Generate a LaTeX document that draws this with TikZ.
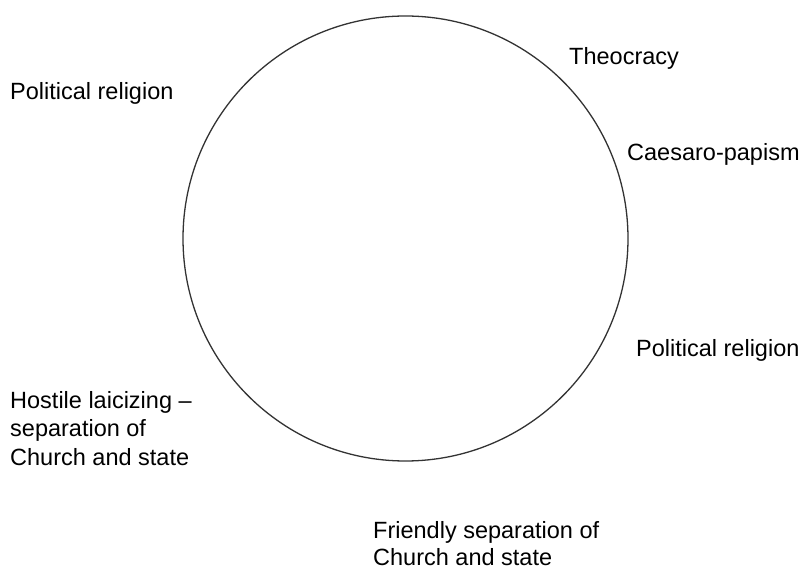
\documentclass[tikz,border=0pt]{standalone}
\usepackage{fontspec}
\setmainfont{Liberation Sans}
\begin{document}
\begin{tikzpicture}[x=1pt,y=1pt,
  lab/.style={font=\fontsize{23.5}{28.5}\selectfont, inner sep=0pt, anchor=base west, align=left, text=black}]
\useasboundingbox (0,0) rectangle (804,571);
\node[draw=black!80, line width=1.3pt, circle, minimum size=445pt, inner sep=0pt] (circ) at (405.5,332.5) {};
\node[lab] (theo) at (569,506) {Theocracy};
\node[lab] (polL) at (10,471) {Political religion};
\node[lab] (caes) at (627,410) {Caesaro-papism};
\node[lab] (polR) at (636,214) {Political religion};
\node[lab] (host) at (10,106) {Hostile laicizing --\\separation of\\Church and state};
\node[lab, font=\fontsize{23.5}{27}\selectfont] (friend) at (373,6) {Friendly separation of\\Church and state};
\end{tikzpicture}
\end{document}
